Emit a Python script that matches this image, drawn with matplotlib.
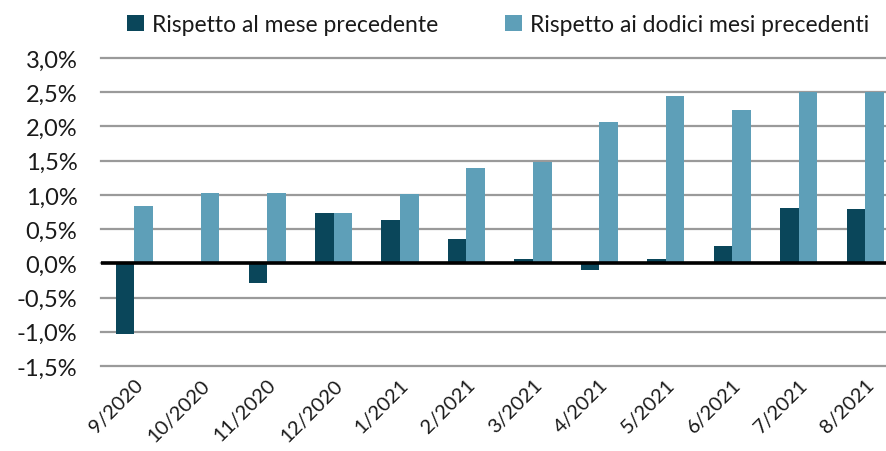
import matplotlib
matplotlib.use("Agg")
import matplotlib.pyplot as plt
import numpy as np
from matplotlib.ticker import FuncFormatter

categories = ["9/2020", "10/2020", "11/2020", "12/2020", "1/2021", "2/2021",
              "3/2021", "4/2021", "5/2021", "6/2021", "7/2021", "8/2021"]
mese_prec = [-1.03, 0.0, -0.29, 0.74, 0.64, 0.35, 0.07, -0.10, 0.07, 0.25, 0.81, 0.80]
dodici_mesi = [0.84, 1.03, 1.03, 0.74, 1.02, 1.39, 1.48, 2.06, 2.44, 2.24, 2.51, 2.50]
series_names = ["Rispetto al mese precedente", "Rispetto ai dodici mesi precedenti"]
yticks = [-1.5, -1.0, -0.5, 0.0, 0.5, 1.0, 1.5, 2.0, 2.5, 3.0]

plt.rcParams["font.family"] = ["Lato", "DejaVu Sans"]

dark = "#0a465a"
light = "#5e9fb8"

fig = plt.figure(figsize=(8.87, 4.52), dpi=100)
ax = fig.add_axes([101/887, 1-367/452, (887-101)/887, (367-59)/452])

x = np.arange(len(categories))
w = 0.28
ax.bar(x - w/2, mese_prec, w, color=dark, label=series_names[0], zorder=3)
ax.bar(x + w/2, dodici_mesi, w, color=light, label=series_names[1], zorder=3)

step = 66.45
ax.set_xlim(-0.5, -0.5 + (887-101)/step)
ax.set_ylim(-1.5, 3.0)
ax.set_yticks(yticks)
ax.yaxis.set_major_formatter(FuncFormatter(lambda v, p: f"{v:.1f}%".replace(".", ",")))
ax.grid(axis="y", color="#9a9a9a", linewidth=1.6, zorder=0)
for gl in ax.get_ygridlines():
    gl.set_clip_on(False)
ax.axhline(0, color="black", linewidth=2.6, zorder=4)

for s in ax.spines.values():
    s.set_visible(False)
ax.tick_params(axis="both", length=0, colors="#1a1a1a")
ax.tick_params(axis="y", pad=17, labelsize=17)
ax.set_xticks(x)
ax.set_xticklabels(categories, rotation=45, ha="right", va="top", rotation_mode="anchor")
ax.tick_params(axis="x", pad=7, labelsize=14.5)

leg = fig.legend(loc="upper left", bbox_to_anchor=(112/887, 1.0), ncol=2, frameon=False,
                 fontsize=16.5, handlelength=0.75, handleheight=0.75, handletextpad=0.35,
                 columnspacing=2.9, borderaxespad=0.25)
for t in leg.get_texts():
    t.set_color("#1a1a1a")

fig.savefig("out.png", dpi=100)
